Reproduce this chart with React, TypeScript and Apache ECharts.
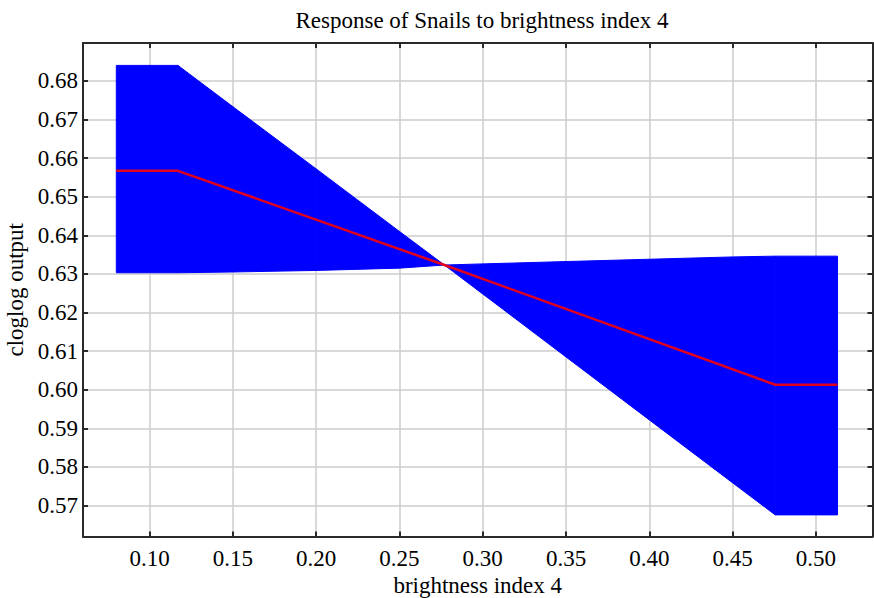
import React, { useEffect, useRef } from "react";
import * as echarts from "echarts";

const bandX = [0.08, 0.117, 0.15, 0.2, 0.25, 0.277, 0.3, 0.35, 0.4, 0.45, 0.4756, 0.513];
const bandUpper = [0.684, 0.684, 0.6733, 0.6572, 0.641, 0.6323, 0.6326, 0.6332, 0.6338, 0.6344, 0.6346, 0.6346];
const bandLower = [0.6303, 0.6303, 0.6305, 0.6309, 0.6315, 0.6323, 0.6248, 0.6085, 0.5922, 0.5759, 0.5676, 0.5676];
const lineX = [0.08, 0.117, 0.277, 0.4756, 0.513];
const lineY = [0.6567, 0.6567, 0.6323, 0.6013, 0.6013];
const xTicks = [0.1, 0.15, 0.2, 0.25, 0.3, 0.35, 0.4, 0.45, 0.5];
const yTicks = [0.57, 0.58, 0.59, 0.6, 0.61, 0.62, 0.63, 0.64, 0.65, 0.66, 0.67, 0.68];

const FONT = "Liberation Serif, Times New Roman, serif";
const AXIS_COLOR = "#2a2a2a";

export default function App() {
  const ref = useRef<HTMLDivElement>(null);
  useEffect(() => {
    if (!ref.current) return;
    const chart = echarts.init(ref.current, null, { renderer: "svg" });
    const tickStyle = (vals: number[]) => ({
      show: true,
      inside: true,
      length: 5,
      customValues: vals,
      lineStyle: { color: AXIS_COLOR, width: 2 },
    });
    const labelStyle = (vals: number[], margin: number) => ({
      show: true,
      customValues: vals,
      formatter: (v: number) => v.toFixed(2),
      fontFamily: FONT,
      fontSize: 23,
      color: "#000",
      margin,
    });
    const axisLine = { show: true, onZero: false, lineStyle: { color: AXIS_COLOR, width: 2 } };
    const option: any = {
      animation: false,
      backgroundColor: "#ffffff",
      textStyle: { fontFamily: FONT, color: "#000" },
      title: {
        text: "Response of Snails to brightness index 4",
        left: 477,
        top: 4,
        textAlign: "center",
        textStyle: { fontFamily: FONT, fontSize: 23, fontWeight: "normal", color: "#000" },
      },
      grid: { left: 83, right: 1.5, top: 43, bottom: 61.5, containLabel: false, outerBoundsMode: "none" },
      xAxis: [
        {
          type: "value",
          position: "bottom",
          min: 0.06,
          max: 0.534,
          axisLine,
          axisTick: tickStyle(xTicks),
          axisLabel: labelStyle(xTicks, 10),
          splitLine: { show: true, lineStyle: { color: "#cccccc", width: 1.5 } },
          name: "brightness index 4",
          nameLocation: "middle",
          nameGap: 34,
          nameTextStyle: { fontFamily: FONT, fontSize: 23, color: "#000" },
        },
        {
          type: "value",
          position: "top",
          min: 0.06,
          max: 0.534,
          axisLine,
          axisTick: tickStyle(xTicks),
          axisLabel: { show: false },
          splitLine: { show: false },
        },
      ],
      yAxis: [
        {
          type: "value",
          position: "left",
          min: 0.562,
          max: 0.6898,
          axisLine,
          axisTick: tickStyle(yTicks),
          axisLabel: labelStyle(yTicks, 5),
          splitLine: { show: true, lineStyle: { color: "#cccccc", width: 1.5 } },
          name: "cloglog output",
          nameLocation: "middle",
          nameGap: 51,
          nameTextStyle: { fontFamily: FONT, fontSize: 23, color: "#000" },
        },
        {
          type: "value",
          position: "right",
          min: 0.562,
          max: 0.6898,
          axisLine,
          axisTick: tickStyle(yTicks),
          axisLabel: { show: false },
          splitLine: { show: false },
        },
      ],
      series: [
        {
          type: "custom",
          xAxisIndex: 0,
          yAxisIndex: 0,
          silent: true,
          z: 2,
          data: bandX.map((x, i) => [x, bandLower[i], bandUpper[i]]),
          renderItem: (params: any, api: any) => {
            const i = params.dataIndex;
            if (i >= bandX.length - 1) return null;
            const p1 = api.coord([bandX[i], bandUpper[i]]);
            const p2 = api.coord([bandX[i + 1], bandUpper[i + 1]]);
            const p3 = api.coord([bandX[i + 1], bandLower[i + 1]]);
            const p4 = api.coord([bandX[i], bandLower[i]]);
            return {
              type: "polygon",
              shape: { points: [p1, p2, p3, p4] },
              style: { fill: "#0000ff", stroke: "#0000ff", lineWidth: 1 },
            };
          },
        },
        {
          type: "line",
          xAxisIndex: 0,
          yAxisIndex: 0,
          z: 3,
          symbol: "none",
          silent: true,
          data: lineX.map((x, i) => [x, lineY[i]]),
          lineStyle: { color: "#e0001e", width: 2.5 },
        },
      ],
    };
    chart.setOption(option);
    return () => chart.dispose();
  }, []);
  return (
    <div
      ref={ref}
      style={{ position: "absolute", left: 0, top: 0, width: 874, height: 598 }}
    />
  );
}
